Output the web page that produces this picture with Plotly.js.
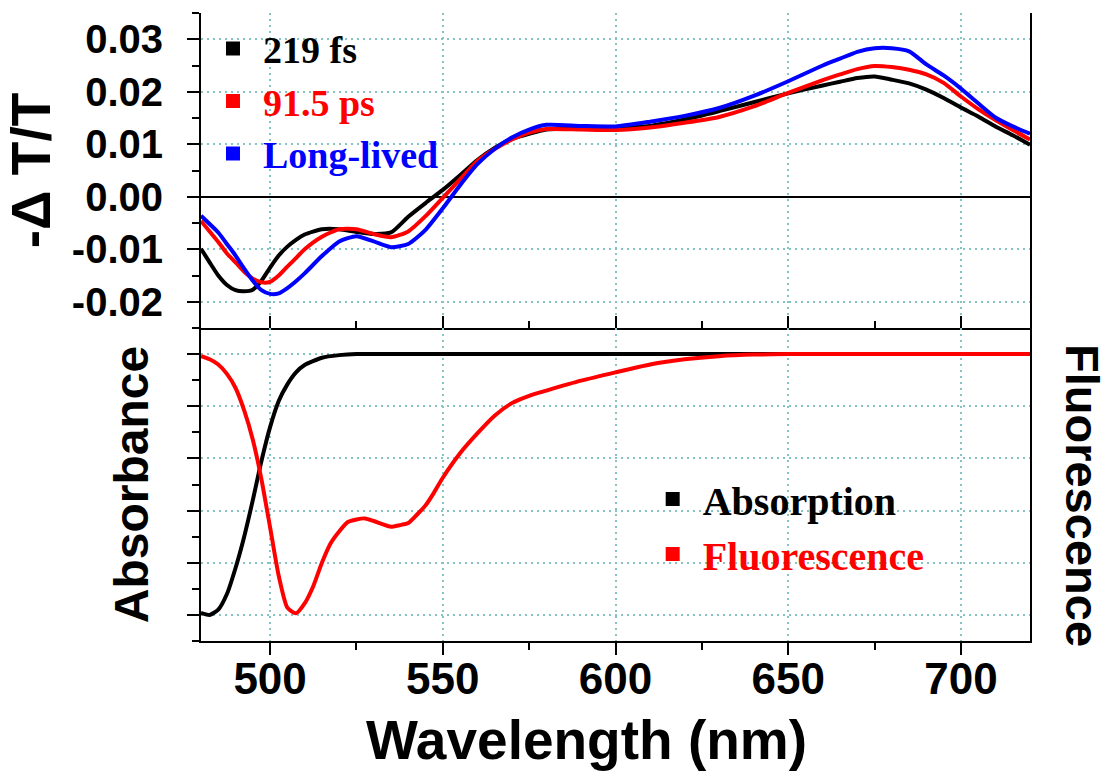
<!DOCTYPE html>
<html>
<head>
<meta charset="utf-8">
<script src="https://cdn.plot.ly/plotly-3.0.1.min.js"></script>
<style>html,body{margin:0;padding:0;background:#fff;}#chart{width:1107px;height:771px;}</style>
</head>
<body>
<div id="chart"></div>
<script>
// ---- Transient absorption spectra (top panel) ----
const wavelengthTA = [480, 482.5, 485, 487.5, 490, 492.5, 495, 497.5, 500, 502.5, 505, 507.5, 510, 515, 520, 525, 530, 535, 540, 545, 550, 555, 560, 565, 570, 575, 580, 590, 600, 610, 620, 630, 640, 650, 660, 665, 670, 675, 680, 685, 690, 695, 700, 705, 710, 715, 720];
const ta219fs = [-0.0099, -0.0125, -0.0150, -0.0168, -0.0178, -0.0180, -0.0177, -0.0160, -0.0135, -0.0112, -0.0095, -0.0082, -0.0072, -0.0062, -0.0062, -0.0067, -0.0071, -0.0068, -0.0038, -0.0012, 0.0013, 0.0041, 0.0070, 0.0093, 0.0110, 0.0120, 0.0128, 0.0130, 0.0131, 0.0135, 0.0147, 0.0163, 0.0180, 0.0197, 0.0212, 0.0219, 0.0226, 0.0229, 0.0223, 0.0216, 0.0204, 0.0188, 0.0170, 0.0153, 0.0134, 0.0117, 0.0099];
const ta915ps = [-0.0046, -0.0066, -0.0086, -0.0108, -0.0125, -0.0143, -0.0156, -0.0163, -0.0162, -0.0150, -0.0133, -0.0117, -0.0100, -0.0076, -0.0062, -0.0062, -0.0071, -0.0077, -0.0066, -0.0037, -0.0002, 0.0033, 0.0068, 0.0091, 0.0109, 0.0122, 0.0129, 0.0128, 0.0127, 0.0132, 0.0141, 0.0152, 0.0172, 0.0198, 0.0222, 0.0233, 0.0243, 0.0249, 0.0247, 0.0242, 0.0233, 0.0217, 0.0191, 0.0167, 0.0146, 0.0127, 0.0109];
const taLongLived = [-0.0036, -0.0052, -0.0068, -0.0090, -0.0112, -0.0137, -0.0160, -0.0178, -0.0185, -0.0184, -0.0174, -0.0161, -0.0146, -0.0113, -0.0085, -0.0075, -0.0085, -0.0096, -0.0090, -0.0063, -0.0022, 0.0022, 0.0062, 0.0091, 0.0113, 0.0128, 0.0137, 0.0135, 0.0134, 0.0143, 0.0154, 0.0169, 0.0192, 0.0220, 0.0250, 0.0263, 0.0276, 0.0283, 0.0283, 0.0277, 0.0252, 0.0231, 0.0206, 0.0178, 0.0151, 0.0134, 0.0120];

// ---- Steady-state spectra (bottom panel, arbitrary units) ----
const wavelengthAbs = [480, 482.5, 485, 487.5, 490, 492.5, 495, 497.5, 500, 502.5, 505, 507.5, 510, 515, 520, 525, 530, 550, 600, 650, 700, 720];
const absorption = [0.04, 0.0, 0.1, 0.4, 0.9, 1.5, 2.2, 2.95, 3.6, 4.1, 4.42, 4.65, 4.79, 4.93, 4.98, 5.0, 5.0, 5.0, 5.0, 5.0, 5.0, 5.0];
const wavelengthFl = [480, 482.5, 485, 487.5, 490, 492.5, 495, 497.5, 500, 502.5, 505, 507.5, 510, 512.5, 515, 517.5, 520, 522.5, 525, 527.5, 530, 532.5, 535, 537.5, 540, 542.5, 545, 547.5, 550, 555, 560, 565, 570, 575, 580, 590, 600, 610, 620, 630, 640, 650, 680, 720];
const fluorescence = [4.96, 4.9, 4.8, 4.62, 4.35, 3.92, 3.36, 2.6, 1.68, 0.75, 0.14, 0.03, 0.22, 0.55, 1.0, 1.37, 1.6, 1.78, 1.83, 1.85, 1.8, 1.74, 1.69, 1.72, 1.76, 1.92, 2.1, 2.35, 2.63, 3.1, 3.48, 3.82, 4.06, 4.2, 4.3, 4.49, 4.65, 4.8, 4.9, 4.96, 4.99, 5.0, 5.0, 5.0];

// ---- Tick labels ----
const xTickVals = [500, 550, 600, 650, 700];
const xTickText = ['500', '550', '600', '650', '700'];
const taTickVals = [-0.02, -0.01, 0.00, 0.01, 0.02, 0.03];
const taTickText = ['-0.02', '-0.01', '0.00', '0.01', '0.02', '0.03'];
const absTickVals = [0, 1, 2, 3, 4, 5];

const sans = 'Liberation Sans, Arial, sans-serif';
const serif = 'Liberation Serif, Times New Roman, serif';
const gridColor = '#86c4c4';
const gridDash = '2px,4px';
const curve = (color) => ({color: color, width: 4, shape: 'spline', smoothing: 0.6});

const traces = [
  {x: wavelengthTA, y: ta219fs, mode: 'lines', line: curve('#000000'), xaxis: 'x', yaxis: 'y', showlegend: false, name: '219 fs'},
  {x: wavelengthTA, y: ta915ps, mode: 'lines', line: curve('#ff0000'), xaxis: 'x', yaxis: 'y', showlegend: false, name: '91.5 ps'},
  {x: wavelengthTA, y: taLongLived, mode: 'lines', line: curve('#0000ff'), xaxis: 'x', yaxis: 'y', showlegend: false, name: 'Long-lived'},
  {x: wavelengthAbs, y: absorption, mode: 'lines', line: curve('#000000'), xaxis: 'x2', yaxis: 'y2', showlegend: false, name: 'Absorption'},
  {x: wavelengthFl, y: fluorescence, mode: 'lines', line: curve('#ff0000'), xaxis: 'x2', yaxis: 'y2', showlegend: false, name: 'Fluorescence'},
  // legend entries (square markers)
  {x: [null], y: [null], mode: 'markers', marker: {symbol: 'square', size: 14, color: '#000000'}, xaxis: 'x', yaxis: 'y', legend: 'legend', name: '<span style="color:#000000">219 fs</span>'},
  {x: [null], y: [null], mode: 'markers', marker: {symbol: 'square', size: 14, color: '#ff0000'}, xaxis: 'x', yaxis: 'y', legend: 'legend', name: '<span style="color:#ff0000">91.5 ps</span>'},
  {x: [null], y: [null], mode: 'markers', marker: {symbol: 'square', size: 14, color: '#0000ff'}, xaxis: 'x', yaxis: 'y', legend: 'legend', name: '<span style="color:#0000ff">Long-lived</span>'},
  {x: [null], y: [null], mode: 'markers', marker: {symbol: 'square', size: 14, color: '#000000'}, xaxis: 'x2', yaxis: 'y2', legend: 'legend2', name: '<span style="color:#000000">Absorption</span>'},
  {x: [null], y: [null], mode: 'markers', marker: {symbol: 'square', size: 14, color: '#ff0000'}, xaxis: 'x2', yaxis: 'y2', legend: 'legend2', name: '<span style="color:#ff0000">Fluorescence</span>'}
];

const split = 313 / 628;

const commonX = {
  range: [480, 720], showline: true, linecolor: '#000', linewidth: 2,
  showgrid: true, gridcolor: gridColor, griddash: gridDash, gridwidth: 1.5,
  zeroline: false, tickvals: xTickVals, ticktext: xTickText,
  tickcolor: '#000', tickwidth: 2
};

const layout = {
  width: 1107, height: 771,
  margin: {l: 201, r: 77, t: 13, b: 130},
  paper_bgcolor: '#fff', plot_bgcolor: '#fff',
  showlegend: true,
  xaxis: Object.assign({}, commonX, {
    domain: [0, 1], anchor: 'y', side: 'bottom', ticks: 'inside', ticklen: 12,
    showticklabels: false,
    minor: {ticks: 'inside', ticklen: 7, dtick: 25, tick0: 475, tickcolor: '#000', tickwidth: 2, showgrid: false}
  }),
  xaxis3: {
    range: [480, 720], overlaying: 'x', anchor: 'y', side: 'top', matches: 'x',
    showline: true, linecolor: '#000', linewidth: 2, showgrid: false, zeroline: false,
    tickvals: xTickVals, ticks: 'inside', ticklen: 10, tickcolor: '#000', tickwidth: 2,
    showticklabels: false,
    minor: {ticks: 'inside', ticklen: 6, dtick: 25, tick0: 475, tickcolor: '#000', tickwidth: 2, showgrid: false}
  },
  xaxis2: Object.assign({}, commonX, {
    domain: [0, 1], anchor: 'y2', side: 'bottom', ticks: 'outside', ticklen: 12,
    showticklabels: true, ticklabelstandoff: -14,
    tickfont: {family: sans, size: 44, color: '#000', weight: 'bold'},
    minor: {ticks: 'outside', ticklen: 7, dtick: 25, tick0: 475, tickcolor: '#000', tickwidth: 2, showgrid: false}
  }),
  yaxis: {
    domain: [split, 1], anchor: 'x', range: [-0.025, 0.035],
    tickvals: taTickVals, ticktext: taTickText,
    ticks: 'outside', ticklen: 12, tickcolor: '#000', tickwidth: 2, ticklabelstandoff: 16,
    tickfont: {family: sans, size: 40, color: '#000', weight: 'bold'},
    minor: {ticks: 'outside', ticklen: 7, dtick: 0.005, tick0: 0, tickcolor: '#000', tickwidth: 2, showgrid: false},
    showline: true, mirror: true, linecolor: '#000', linewidth: 2,
    showgrid: true, gridcolor: gridColor, griddash: gridDash, gridwidth: 1.5,
    zeroline: true, zerolinecolor: '#000', zerolinewidth: 2,
    title: {text: '-Δ T/T', font: {family: sans, size: 55, color: '#000', weight: 'bold'}, standoff: 12}
  },
  yaxis2: {
    domain: [0, split], anchor: 'x2', range: [-0.5, 5.5],
    tickvals: absTickVals, showticklabels: false,
    ticks: 'outside', ticklen: 12, tickcolor: '#000', tickwidth: 2,
    minor: {ticks: 'outside', ticklen: 7, dtick: 0.5, tick0: 0, tickcolor: '#000', tickwidth: 2, showgrid: false},
    showline: true, mirror: true, linecolor: '#000', linewidth: 2,
    showgrid: true, gridcolor: gridColor, griddash: gridDash, gridwidth: 1.5,
    zeroline: false,
    title: {text: 'Absorbance', font: {family: sans, size: 48, color: '#000', weight: 'bold'}, standoff: 23}
  },
  legend: {
    x: 0.0024, y: 0.993, xanchor: 'left', yanchor: 'top', bgcolor: 'rgba(0,0,0,0)',
    font: {family: serif, size: 38, color: '#000', weight: 'bold'}, itemwidth: 50, tracegroupgap: 0
  },
  legend2: {
    x: 0.5328, y: 0.278, xanchor: 'left', yanchor: 'top', bgcolor: 'rgba(0,0,0,0)',
    font: {family: serif, size: 40, color: '#000', weight: 'bold'}, itemwidth: 50, tracegroupgap: 0
  },
  annotations: [
    {text: 'Wavelength (nm)', xref: 'paper', yref: 'paper', x: (586 - 201) / 829, y: (641 - 740) / 628,
     xanchor: 'center', yanchor: 'middle', showarrow: false,
     font: {family: sans, size: 55, color: '#000', weight: 'bold'}},
    {text: 'Fluorescence', xref: 'paper', yref: 'paper', x: (1082 - 201) / 829, y: (641 - 495) / 628,
     xanchor: 'center', yanchor: 'middle', textangle: 90, showarrow: false, height: 40,
     font: {family: sans, size: 47, color: '#000', weight: 'bold'}}
  ]
};

Plotly.newPlot('chart', traces, layout, {displayModeBar: false, responsive: false});
</script>
</body>
</html>
